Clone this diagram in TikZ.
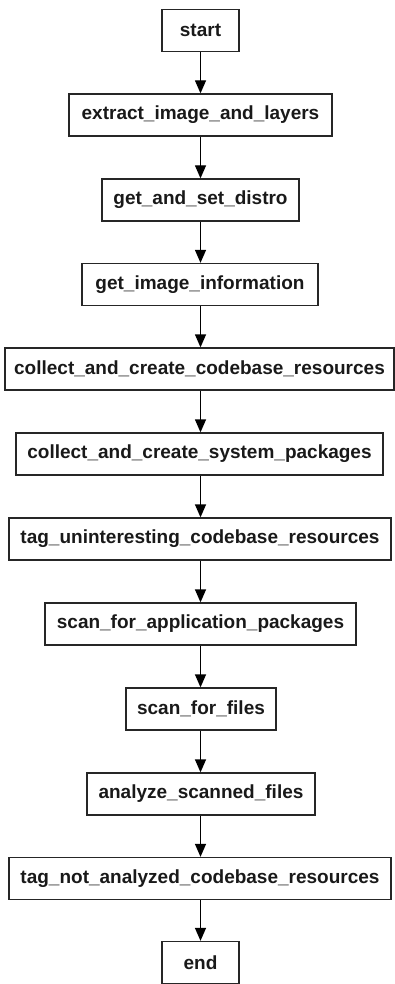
\documentclass[tikz,border=0pt]{standalone}
\usepackage{fontspec}
\setmainfont{Liberation Sans}
\usetikzlibrary{arrows.meta}
\begin{document}
\begin{tikzpicture}[x=1pt,y=-1pt,
  stepbox/.style={draw=black!85, line width=1.3pt, minimum height=42pt,
    inner sep=0pt, font=\fontsize{19}{21}\selectfont\bfseries, text=black!90},
  flow/.style={draw=black, line width=1.3pt, -{Triangle[length=13pt,width=11pt]}}]
\useasboundingbox (0,0) rectangle (395,984);
\node[stepbox, minimum width=77pt]  (start)   at (200.5,30.5) {start};
\node[stepbox, minimum width=263pt] (extract) at (200.5,115)  {extract\_image\_and\_layers};
\node[stepbox, minimum width=197pt] (distro)  at (200.5,200)  {get\_and\_set\_distro};
\node[stepbox, minimum width=236pt] (info)    at (200,284.5)  {get\_image\_information};
\node[stepbox, minimum width=389pt] (codebase) at (199.5,369) {collect\_and\_create\_codebase\_resources};
\node[stepbox, minimum width=367pt] (syspkg)  at (199.5,454)  {collect\_and\_create\_system\_packages};
\node[stepbox, minimum width=382pt] (untag)   at (200,539)    {tag\_uninteresting\_codebase\_resources};
\node[stepbox, minimum width=311pt] (apppkg)  at (200.5,624)  {scan\_for\_application\_packages};
\node[stepbox, minimum width=150pt] (files)   at (201,709)    {scan\_for\_files};
\node[stepbox, minimum width=228pt] (analyze) at (201,794)    {analyze\_scanned\_files};
\node[stepbox, minimum width=382pt] (notan)   at (200,878.5)  {tag\_not\_analyzed\_codebase\_resources};
\node[stepbox, minimum width=77pt]  (end)     at (200.5,962.5) {end};
\foreach \a/\b in {start/extract, extract/distro, distro/info, info/codebase,
  codebase/syspkg, syspkg/untag, untag/apppkg, apppkg/files, files/analyze,
  analyze/notan, notan/end}
  \draw[flow] (\a.south -| 200.5,0) -- (\b.north -| 200.5,0);
\end{tikzpicture}
\end{document}
